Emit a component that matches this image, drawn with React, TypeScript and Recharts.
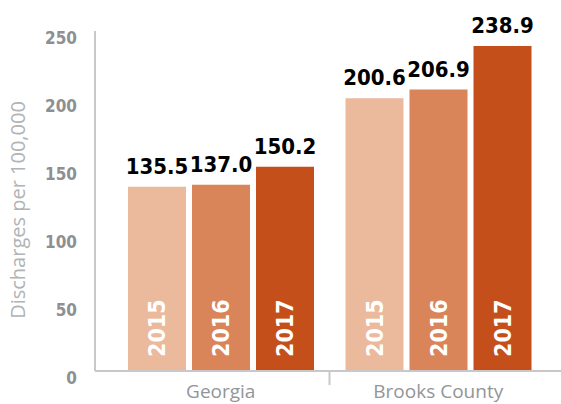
import { Bar, BarChart, LabelList, XAxis, YAxis } from "recharts";

const categories = ["Georgia", "Brooks County"];
const years = ["2015", "2016", "2017"];
const values2015 = [135.5, 200.6];
const values2016 = [137.0, 206.9];
const values2017 = [150.2, 238.9];
const yTicks = [0, 50, 100, 150, 200, 250];

const colors = ["#ebb99b", "#da8459", "#c54f1b"];
const narrow = "'DejaVu Sans Condensed', sans-serif";

const data = categories.map((name, i) => ({
  name,
  y2015: values2015[i],
  y2016: values2016[i],
  y2017: values2017[i],
}));

const W = 561;
const H = 404;
const PLOT_LEFT = 95;
const PAD_L = 17;
const PAD_R = 14;
const band = (W - PLOT_LEFT - PAD_L - PAD_R) / categories.length;

const YTick = (props: any) => {
  const { x, y, payload } = props;
  return (
    <text
      x={x}
      y={y + 7}
      textAnchor="end"
      dominantBaseline="central"
      fill="#8d8f92"
      fontFamily={narrow}
      fontWeight="bold"
      fontSize={17}
    >
      {payload.value}
    </text>
  );
};

const XTick = (props: any) => {
  const { x, y, payload, index } = props;
  return (
    <g>
      {index === 0 && (
        <line
          x1={x + band / 2}
          x2={x + band / 2}
          y1={y - 1}
          y2={y + 12}
          stroke="#c8c8c8"
          strokeWidth={2}
        />
      )}
      <text
        x={x}
        y={y + 25}
        textAnchor="middle"
        fill="#939598"
        fontFamily="'Open Sans', sans-serif"
        fontSize={19}
      >
        {payload.value}
      </text>
    </g>
  );
};

const yearLabel = (year: string) => (props: any) => {
  const { x, y, width, height } = props;
  const cx = x + width / 2;
  const by = y + height - 14;
  return (
    <text
      x={cx}
      y={by}
      transform={`rotate(-90 ${cx} ${by})`}
      textAnchor="start"
      dominantBaseline="central"
      fill="#ffffff"
      fontFamily={narrow}
      fontWeight="bold"
      fontSize={23}
    >
      {year}
    </text>
  );
};

const App = () => {
  const keys = ["y2015", "y2016", "y2017"];
  return (
    <div style={{ position: "absolute", left: 0, top: 0, background: "#fff" }}>
      <BarChart
        width={W}
        height={H}
        data={data}
        barSize={58}
        barGap={6}
        margin={{ top: 31, right: 0, bottom: 0, left: 0 }}
      >
        <XAxis
          dataKey="name"
          height={33}
          padding={{ left: PAD_L, right: PAD_R }}
          tickLine={false}
          tickSize={0}
          axisLine={{ stroke: "#c8c8c8", strokeWidth: 2 }}
          tick={<XTick />}
          interval={0}
        />
        <YAxis
          width={PLOT_LEFT}
          domain={[0, 250]}
          ticks={yTicks}
          tickLine={false}
          tickSize={0}
          tickMargin={18}
          axisLine={{ stroke: "#c8c8c8", strokeWidth: 2 }}
          tick={<YTick />}
          label={{
            content: () => (
              <text
                x={17}
                y={210}
                transform="rotate(-90 17 210)"
                textAnchor="middle"
                dominantBaseline="central"
                fill="#b1b3b5"
                fontFamily="'Open Sans', sans-serif"
                fontSize={20}
              >
                Discharges per 100,000
              </text>
            ),
          }}
        />
        {keys.map((k, i) => (
          <Bar key={k} dataKey={k} fill={colors[i]} isAnimationActive={false}>
            <LabelList
              dataKey={k}
              position="top"
              offset={13}
              formatter={(v: any) => Number(v).toFixed(1)}
              fill="#000000"
              fontFamily={narrow}
              fontWeight="bold"
              fontSize={22}
            />
            <LabelList dataKey={k} content={yearLabel(years[i])} />
          </Bar>
        ))}
      </BarChart>
    </div>
  );
};

export default App;
